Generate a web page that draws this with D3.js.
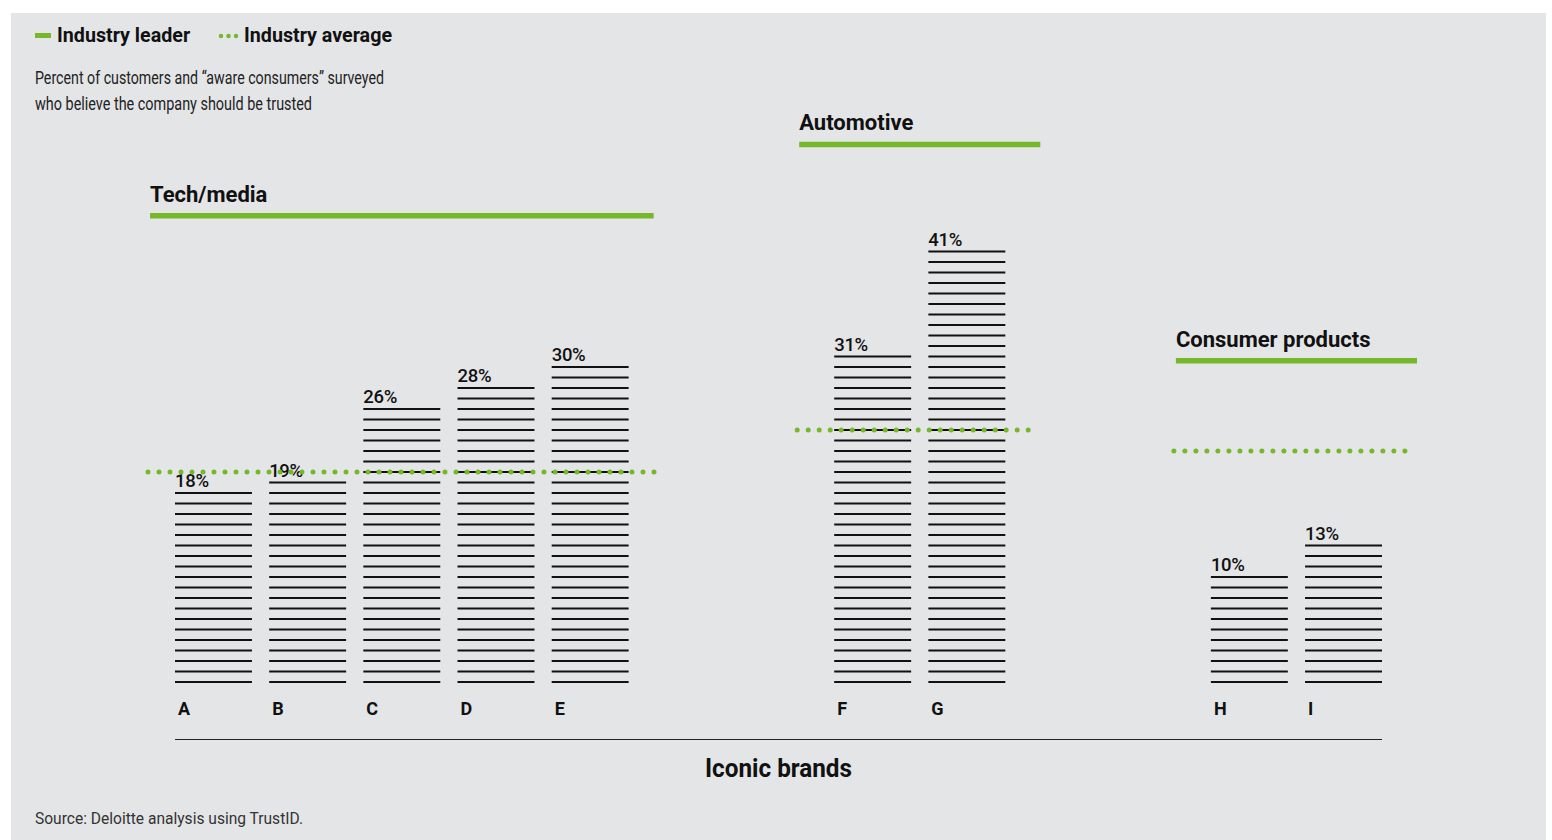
<!DOCTYPE html>
<html>
<head>
<meta charset="utf-8">
<script src="https://cdn.jsdelivr.net/npm/d3@7"></script>
<style>
  body { margin: 0; background: #fff; }
  svg { display: block; }
  .narrow { font-family: Roboto, "Liberation Sans", sans-serif; }
  .bold { font-family: Roboto, "Noto Sans", sans-serif; font-weight: 700; }
  .medium { font-family: Roboto, "Noto Sans", sans-serif; font-weight: 500; }
</style>
</head>
<body>
<div id="vis"></div>
<script>
const WIDTH = 1552;
const HEIGHT = 840;
const GREEN = "#76b82a";

// data
const brands = ["A", "B", "C", "D", "E", "F", "G", "H", "I"];
const values = [18, 19, 26, 28, 30, 31, 41, 10, 13];
const brandGroup = [0, 0, 0, 0, 0, 1, 1, 2, 2];
const groups = ["Tech/media", "Automotive", "Consumer products"];
const leaderValues = [44.4, 51.2, 30.6];
const averageValues = [20, 24, 22];
// slots on the x axis, blanks are the gaps between industries
const slots = ["A", "B", "C", "D", "E", "_1", "_2", "F", "G", "_3", "_4", "H", "I"];
const groupPad = [25, 35, 35];
const avgEndAdjust = [2, -8, -9];

const svg = d3.select("#vis").append("svg")
    .attr("width", WIDTH)
    .attr("height", HEIGHT);

svg.append("rect")
    .attr("x", 11).attr("y", 13)
    .attr("width", 1535).attr("height", HEIGHT - 13)
    .attr("fill", "#e4e5e7");

const X_SCALE = d3.scaleBand().domain(slots).range([175, 1382]).paddingInner(0.183).paddingOuter(0);
const Y_SCALE = d3.scaleLinear().domain([0, 50]).range([682, 157]);

// legend
svg.append("line")
    .attr("x1", 35).attr("x2", 51).attr("y1", 35.5).attr("y2", 35.5)
    .attr("stroke", GREEN).attr("stroke-width", 5);
svg.append("text").attr("class", "bold")
    .attr("x", 57).attr("y", 42).attr("font-size", 19.7).attr("fill", "#111")
    .text("Industry leader");
svg.append("line")
    .attr("x1", 221).attr("x2", 240).attr("y1", 36).attr("y2", 36)
    .attr("stroke", GREEN).attr("stroke-width", 4.5)
    .attr("stroke-linecap", "round").attr("stroke-dasharray", "0 7.5");
svg.append("text").attr("class", "bold")
    .attr("x", 244).attr("y", 42).attr("font-size", 19.7).attr("fill", "#111")
    .text("Industry average");

svg.append("text").attr("class", "narrow")
    .attr("x", 35).attr("y", 84).attr("font-size", 18.5).attr("fill", "#222")
    .attr("textLength", 349).attr("lengthAdjust", "spacingAndGlyphs")
    .text("Percent of customers and \u201caware consumers\u201d surveyed");
svg.append("text").attr("class", "narrow")
    .attr("x", 35).attr("y", 110).attr("font-size", 18.5).attr("fill", "#222")
    .attr("textLength", 277).attr("lengthAdjust", "spacingAndGlyphs")
    .text("who believe the company should be trusted");

// group extents
const groupInfo = groups.map((g, i) => {
    const members = brands.filter((b, j) => brandGroup[j] === i);
    const x0 = X_SCALE(members[0]) - groupPad[i];
    const x1 = X_SCALE(members[members.length - 1]) + X_SCALE.bandwidth() + groupPad[i];
    return {name: g, x0: x0, x1: x1, leader: leaderValues[i], avg: averageValues[i], adj: avgEndAdjust[i]};
});

const g = svg.append("g");

// bars as stacks of stripes, one stripe per percent
brands.forEach((b, i) => {
    const bar = g.append("g");
    bar.selectAll("line")
        .data(d3.range(0, values[i] + 1))
        .enter().append("line")
        .attr("x1", X_SCALE(b))
        .attr("x2", X_SCALE(b) + X_SCALE.bandwidth())
        .attr("y1", (d) => Y_SCALE(d))
        .attr("y2", (d) => Y_SCALE(d))
        .attr("stroke", "#111")
        .attr("stroke-width", 2.2);
    bar.append("text").attr("class", "medium")
        .attr("x", X_SCALE(b))
        .attr("y", Y_SCALE(values[i]) - 6)
        .attr("font-size", 18.5).attr("fill", "#111")
        .attr("letter-spacing", -0.3)
        .text(values[i] + "%");
    bar.append("text").attr("class", "bold")
        .attr("x", X_SCALE(b) + 3)
        .attr("y", 715)
        .attr("font-size", 18).attr("fill", "#111")
        .text(b);
});

// leader lines, averages and headers
groupInfo.forEach((d) => {
    g.append("line")
        .attr("x1", d.x0).attr("x2", d.x1)
        .attr("y1", Y_SCALE(d.leader)).attr("y2", Y_SCALE(d.leader))
        .attr("stroke", GREEN).attr("stroke-width", 5.5);
    g.append("text").attr("class", "bold")
        .attr("x", d.x0).attr("y", Y_SCALE(d.leader) - 14)
        .attr("font-size", 22).attr("fill", "#111")
        .text(d.name);
    g.append("line")
        .attr("x1", d.x0 - 2).attr("x2", d.x1 + d.adj)
        .attr("y1", Y_SCALE(d.avg)).attr("y2", Y_SCALE(d.avg))
        .attr("stroke", GREEN).attr("stroke-width", 5)
        .attr("stroke-linecap", "round").attr("stroke-dasharray", "0 11");
});

// x axis
g.append("line")
    .attr("x1", X_SCALE.range()[0]).attr("x2", X_SCALE.range()[1])
    .attr("y1", 739.5).attr("y2", 739.5)
    .attr("stroke", "#222").attr("stroke-width", 1.2);
svg.append("text").attr("class", "bold")
    .attr("x", 705).attr("y", 777)
    .attr("font-size", 26).attr("fill", "#111")
    .attr("textLength", 147).attr("lengthAdjust", "spacingAndGlyphs")
    .text("Iconic brands");

svg.append("text").attr("class", "narrow")
    .attr("x", 35).attr("y", 824).attr("font-size", 17).attr("fill", "#333")
    .attr("textLength", 268).attr("lengthAdjust", "spacingAndGlyphs")
    .text("Source: Deloitte analysis using TrustID.");
</script>
</body>
</html>
